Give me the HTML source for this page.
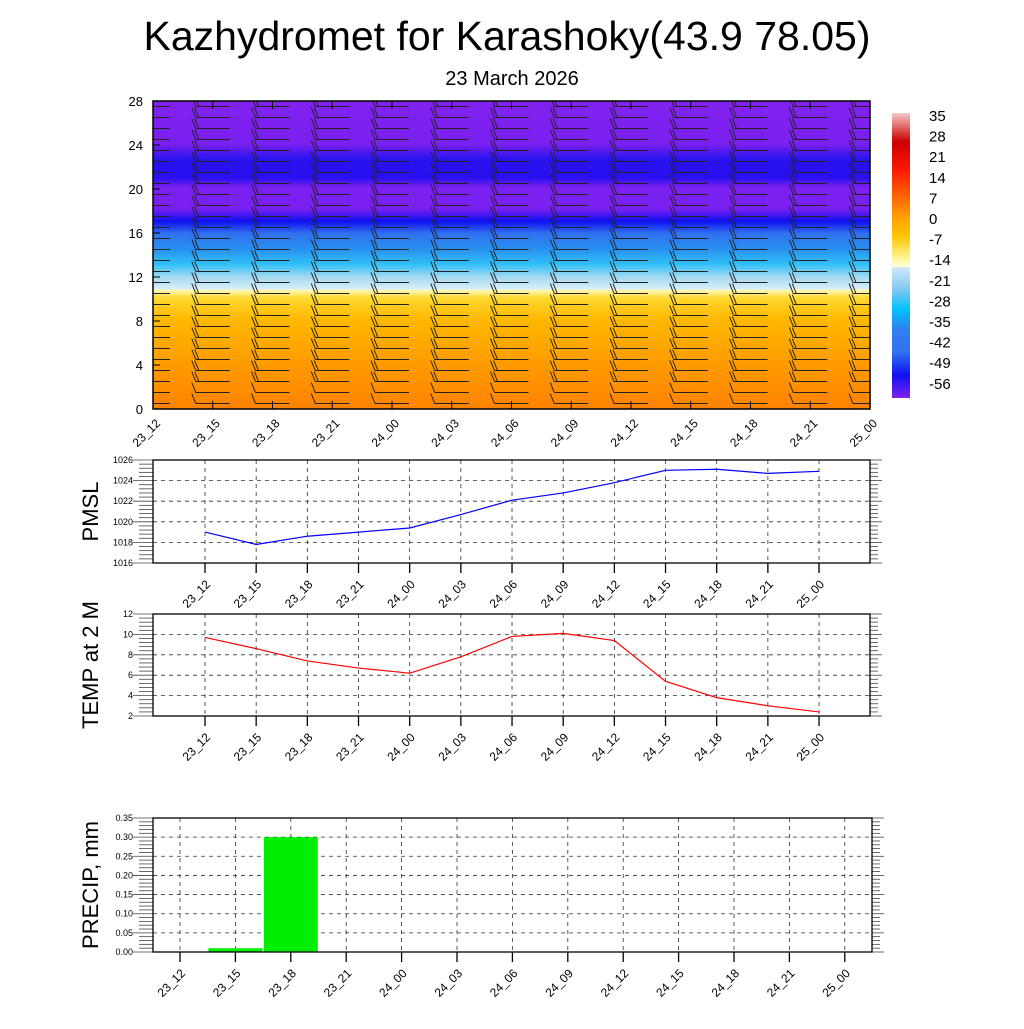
<!DOCTYPE html>
<html><head><meta charset="utf-8"><style>
body{margin:0;background:#fff;}
svg text{font-family:"Liberation Sans",sans-serif;}
</style></head><body>
<svg id="c" width="1024" height="1024" xmlns="http://www.w3.org/2000/svg">
<defs>
<linearGradient id="tg" x1="0" y1="1" x2="0" y2="0">
<stop offset="0" stop-color="#ff8200"/>
<stop offset="0.14" stop-color="#ff9a00"/>
<stop offset="0.29" stop-color="#ffb800"/>
<stop offset="0.36" stop-color="#ffd830"/>
<stop offset="0.385" stop-color="#fff8b0"/>
<stop offset="0.39" stop-color="#d8eef8"/>
<stop offset="0.43" stop-color="#a0d8f0"/>
<stop offset="0.47" stop-color="#30c0f8"/>
<stop offset="0.52" stop-color="#2890f0"/>
<stop offset="0.57" stop-color="#3070f0"/>
<stop offset="0.61" stop-color="#1010f0"/>
<stop offset="0.65" stop-color="#7a20f0"/>
<stop offset="0.72" stop-color="#7a20f0"/>
<stop offset="0.75" stop-color="#2a10f0"/>
<stop offset="0.81" stop-color="#2a12f0"/>
<stop offset="0.86" stop-color="#7a20f0"/>
<stop offset="1" stop-color="#8222f0"/>
</linearGradient>
<linearGradient id="cb" x1="0" y1="0" x2="0" y2="1">
<stop offset="0" stop-color="#f8c8c8"/>
<stop offset="0.1" stop-color="#c80000"/>
<stop offset="0.2" stop-color="#ff1800"/>
<stop offset="0.28" stop-color="#ff5a00"/>
<stop offset="0.36" stop-color="#ff9a00"/>
<stop offset="0.43" stop-color="#ffc400"/>
<stop offset="0.5" stop-color="#fff080"/>
<stop offset="0.54" stop-color="#ffffe0"/>
<stop offset="0.541" stop-color="#d0e8f8"/>
<stop offset="0.62" stop-color="#80c8f0"/>
<stop offset="0.69" stop-color="#00c0ff"/>
<stop offset="0.76" stop-color="#3080f0"/>
<stop offset="0.84" stop-color="#3070f0"/>
<stop offset="0.92" stop-color="#1010f0"/>
<stop offset="1" stop-color="#8020f0"/>
</linearGradient>
<clipPath id="tc"><rect x="153" y="101" width="717" height="308"/></clipPath>
</defs>
<text x="507" y="50" font-size="41" text-anchor="middle">Kazhydromet for Karashoky(43.9 78.05)</text>
<text x="512" y="85" font-size="20" text-anchor="middle">23 March 2026</text>
<g id="topPanel"></g>
<g id="cbar"></g>
<g id="p1"></g><g id="p2"></g><g id="p3"></g>
</svg>
<script>
const times=["23_12","23_15","23_18","23_21","24_00","24_03","24_06","24_09","24_12","24_15","24_18","24_21","25_00"];
const pmsl=[1019,1017.8,1018.6,1019,1019.4,1020.7,1022.1,1022.8,1023.8,1025,1025.1,1024.7,1024.9];
const temp=[9.7,8.6,7.4,6.7,6.2,7.8,9.8,10.1,9.4,5.4,3.8,3.0,2.4];
const precip=[0,0.01,0.3,0,0,0,0,0,0,0,0,0,0];
const levelTicks=[0,4,8,12,16,20,24,28];
const cbLabels=["35","28","21","14","7","0","-7","-14","-21","-28","-35","-42","-49","-56"];
const barbLevels=[0.5,1.5,2.5,3.5,4.5,5.5,6.5,7.5,8.5,9.5,10.5,11.5,12.5,13.5,14.5,15.5,16.5,17.5,18.5,19.5,20.5,21.5,22.5,23.5,24.5,25.5,26.5,27.5];
const barbFeathers=[1,1,2,2,2,2,2,2,2,2,2,2,2,2,2,2,2,2,2,2,2,2,2,2,2,2,2,2];
const NS="http://www.w3.org/2000/svg";
function mk(p,t,a){const e=document.createElementNS(NS,t);for(const k in a)e.setAttribute(k,a[k]);p.appendChild(e);return e;}
const tp=document.getElementById('topPanel');
const tx=i=>153+i*(717/12), ty=v=>409-v*(308/28);
let r=mk(tp,'rect',{x:153,y:101,width:717,height:308,fill:'url(#tg)'});


const bg=mk(tp,'g',{'clip-path':'url(#tc)',stroke:'#222','stroke-width':1,fill:'none'});


times.forEach((t,i)=>{barbLevels.forEach((lv,j)=>{const x=tx(i),y=ty(lv);
 let d=`M${x-17},${y}L${x+17},${y}`;
 for(let f=0;f<barbFeathers[j];f++){const fx=x-17+f*3;d+=`M${fx},${y}L${fx-4},${y-10}`;}
 mk(bg,'path',{d});});});
mk(tp,'rect',{x:153,y:101,width:717,height:308,fill:'none',stroke:'#000','stroke-width':1.5});
levelTicks.forEach(v=>{const y=ty(v);const t=mk(tp,'text',{x:143,y:y+5,'font-size':13,'text-anchor':'end'});t.textContent=v;
 
 
 mk(tp,'line',{x1:153,x2:160,y1:y,y2:y,stroke:'#000'});});
times.forEach((s,i)=>{const x=tx(i);mk(tp,'line',{x1:x,x2:x,y1:409,y2:401,stroke:'#000'});mk(tp,'line',{x1:x,x2:x,y1:101,y2:109,stroke:'#000'});
 const t=mk(tp,'text',{x:x+8,y:424,'font-size':12,'text-anchor':'end',transform:`rotate(-45 ${x+8} 424)`});t.textContent=s;
 
 });
const cbg=document.getElementById('cbar');
r=mk(cbg,'rect',{x:892,y:113,width:18,height:285,fill:'url(#cb)'});


cbLabels.forEach((l,i)=>{const t=mk(cbg,'text',{x:929,y:121+i*20.6,'font-size':15});t.textContent=l;
 
 });
function panel(id,y0,h,x0,x1,step,first,ymin,ymax,ystep,ylabels,title,vals,color,bars){
 const g=document.getElementById(id);
 const X=i=>first+i*step, Y=v=>y0+h-(v-ymin)/(ymax-ymin)*h;
 for(let v=ymin;v<=ymax+1e-9;v+=ystep){const y=Y(v);
  if(v>ymin+1e-9&&v<ymax-1e-9)mk(g,'line',{x1:x0,x2:x1,y1:y,y2:y,stroke:'#333','stroke-dasharray':'4 4','stroke-width':0.8});}
 times.forEach((s,i)=>{const x=X(i);mk(g,'line',{x1:x,x2:x,y1:y0,y2:y0+h,stroke:'#333','stroke-dasharray':'4 4','stroke-width':0.8});
  mk(g,'line',{x1:x,x2:x,y1:y0+h,y2:y0+h+10,stroke:'#000','stroke-width':1.3});
  const t=mk(g,'text',{x:x+6,y:y0+h+22,'font-size':12,'text-anchor':'end',transform:`rotate(-45 ${x+6} ${y0+h+22})`});t.textContent=s;
  
  });
 const nm=Math.round((ymax-ymin)/ystep)*5;
 for(let k=0;k<=nm;k++){const y=y0+h-k*h/nm;mk(g,'line',{x1:x0-(k%5?14:20),x2:x0,y1:y,y2:y,stroke:'#444','stroke-width':0.8});
  mk(g,'line',{x1:x1,x2:x1+(k%5?8:12),y1:y,y2:y,stroke:'#444','stroke-width':0.8});}
 ylabels.forEach(l=>{const t=mk(g,'text',{x:x0-20,y:Y(+l)+3,'font-size':9,'text-anchor':'end'});t.textContent=l;
  
  });
 if(bars){vals.forEach((v,i)=>{if(v>0){const b=mk(g,'rect',{x:X(i)-27,y:Y(v),width:54,height:Y(0)-Y(v),fill:'#00ee00'});
   
   }});}
 else{const p=mk(g,'polyline',{points:vals.map((v,i)=>X(i)+','+Y(v)).join(' '),fill:'none',stroke:color,'stroke-width':1.2});
  
  }
 mk(g,'rect',{x:x0,y:y0,width:x1-x0,height:h,fill:'none',stroke:'#000','stroke-width':1.3});
 const cy=y0+h/2;const t=mk(g,'text',{x:98,y:cy,'font-size':22,'text-anchor':'middle',transform:`rotate(-90 98 ${cy})`});t.textContent=title;
 
 
}
panel('p1',460,103,153,870,51.17,205,1016,1026,2,["1016","1018","1020","1022","1024","1026"],'PMSL',pmsl,'#0000ff',false);
panel('p2',614,102,153,870,51.17,205,2,12,2,["2","4","6","8","10","12"],'TEMP at 2 M',temp,'#ff0000',false);
panel('p3',818,134,153,872,55.4,180,0,0.35,0.05,["0.00","0.05","0.10","0.15","0.20","0.25","0.30","0.35"],'PRECIP, mm',precip,'',true);
</script>
</body></html>
